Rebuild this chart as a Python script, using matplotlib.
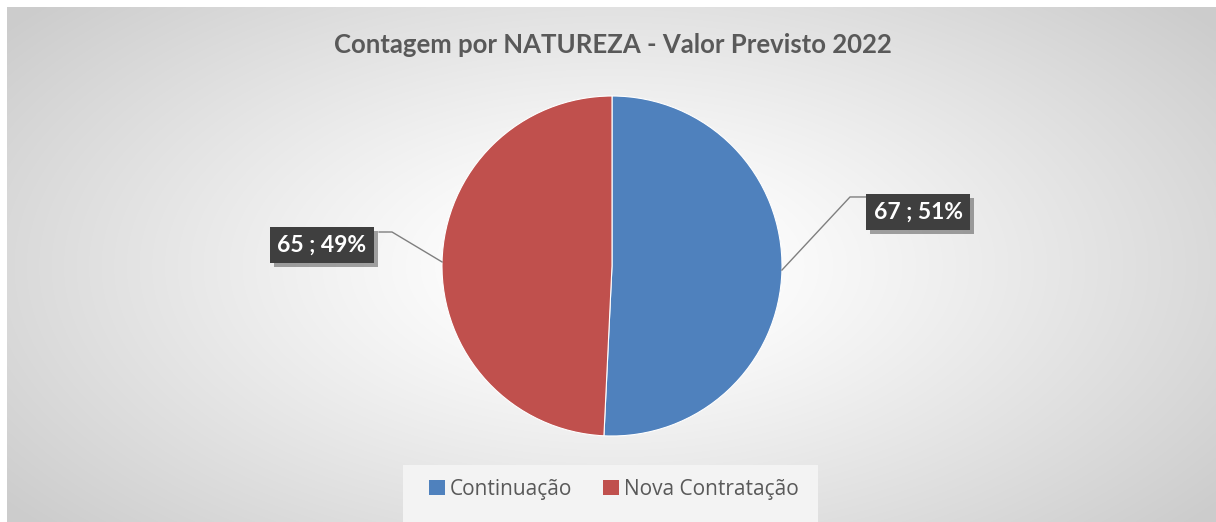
import numpy as np
import matplotlib
matplotlib.use("Agg")
import matplotlib.pyplot as plt
from matplotlib.patches import Rectangle
import matplotlib.patheffects as pe

categories = ["Continuação", "Nova Contratação"]
values = [67, 65]
colors = ["#4f81bd", "#c0504d"]
title = "Contagem por NATUREZA - Valor Previsto 2022"

W, H = 1216, 522
fig = plt.figure(figsize=(W / 100, H / 100), dpi=100)
fig.patch.set_facecolor("white")

# radial gradient background
bg = fig.add_axes([7 / W, 0, (W - 7) / W, (H - 7) / H])
bg.set_axis_off()
yy, xx = np.mgrid[0:H - 7, 0:W - 7]
cx, cy = 605, 259
d = np.sqrt(((xx - cx) / 640) ** 2 + ((yy - cy) / 330) ** 2)
d = np.clip(d, 0, 1.2)
v = 1.0 - 0.20 * np.clip((d - 0.15) / 1.05, 0, 1) ** 1.1
img = np.dstack([v, v, v])
bg.imshow(img, aspect="auto", extent=[0, 1, 0, 1], origin="upper")
bg.set_xlim(0, 1)
bg.set_ylim(0, 1)

# legend background box
fig.patches.append(Rectangle((403 / W, 0), (818 - 403) / W, (522 - 465) / H,
                             transform=fig.transFigure, facecolor="#f3f3f3",
                             edgecolor="none", zorder=1))

# pie
cxp, cyp, r = 612, 266, 170
ax = fig.add_axes([(cxp - r) / W, (H - cyp - r) / H, 2 * r / W, 2 * r / H])
ax.set_axis_off()
wedges, _ = ax.pie(values, colors=colors, startangle=90, counterclock=False,
                   radius=1.0, wedgeprops=dict(edgecolor="white", linewidth=0.8))
ax.set_xlim(-1, 1)
ax.set_ylim(-1, 1)
ax.set_aspect("equal")

total = sum(values)
label_pos = [(1.80, 0.318), (-1.706, 0.124)]
knee = [(1.40, 0.406), (-1.294, 0.20)]
box_edge = [(1.49, 0.406), (-1.37, 0.20)]
for w, val, lp, kn, be in zip(wedges, values, label_pos, knee, box_edge):
    ang = np.deg2rad((w.theta1 + w.theta2) / 2)
    p0 = (np.cos(ang), np.sin(ang))
    ax.plot([p0[0], kn[0], be[0]], [p0[1], kn[1], be[1]], color="#7f7f7f",
            lw=1.0, clip_on=False, zorder=1)
    pct = round(val / total * 100)
    t = ax.text(lp[0], lp[1], f"{val} ; {pct}%", ha="center", va="center",
                color="white", fontsize=16.5, fontweight="bold", family="Lato",
                zorder=5, clip_on=False,
                bbox=dict(boxstyle="square,pad=0.33", facecolor="#3f3f3f",
                          edgecolor="none"))
    t.get_bbox_patch().set_path_effects([pe.withSimplePatchShadow(offset=(3, -3), shadow_rgbFace="#000000", alpha=0.35)])

fig.text(613 / W, 1 - 45 / H, title, ha="center", va="center", fontsize=18.5,
         fontweight="bold", color="#595959", family="Lato")

# legend
handles = [Rectangle((0, 0), 1, 1, facecolor=c) for c in colors]
leg = fig.legend(handles, categories, loc="center", bbox_to_anchor=(614 / W, 1 - 489 / H),
                 ncol=2, frameon=False, prop=dict(family="Open Sans", size=15),
                 handlelength=0.75, handleheight=0.75, handletextpad=0.25,
                 columnspacing=1.5, labelcolor="#595959")

fig.savefig("out.png", dpi=100)
